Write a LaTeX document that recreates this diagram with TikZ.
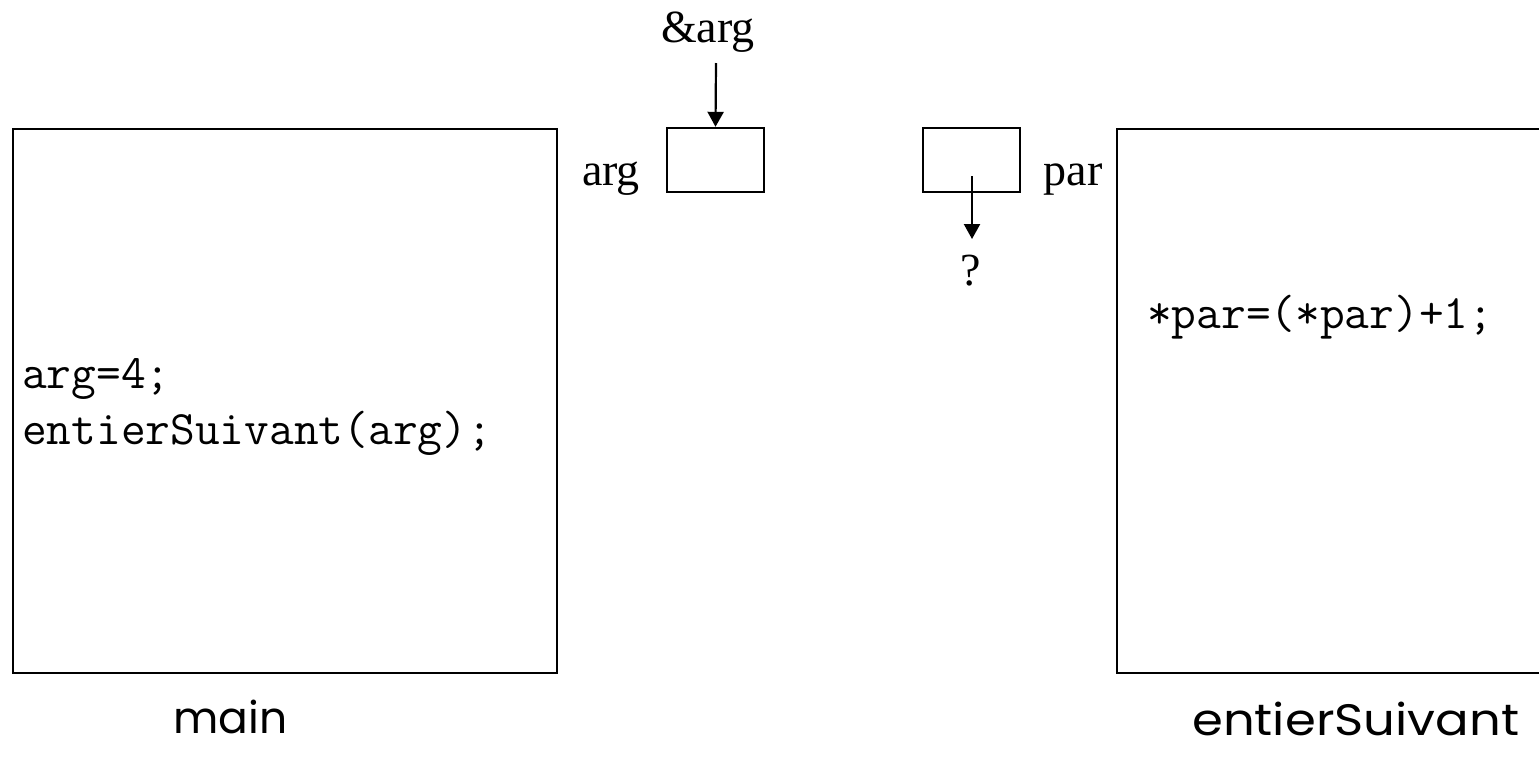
\documentclass[tikz,border=0pt]{standalone}
\usepackage{fontspec}
\setmainfont{Liberation Serif}
\newfontfamily\comicfont{Poppins}
\usetikzlibrary{arrows.meta}
\begin{document}
\begin{tikzpicture}[x=1pt,y=-1pt,
 frame/.style={draw,line width=2.4pt,inner sep=0pt},
 cell/.style={draw,line width=2.4pt,minimum width=97pt,minimum height=64pt,inner sep=0pt},
 serif/.style={font=\fontsize{46}{46}\selectfont,inner sep=0pt,anchor=base},
 code/.style={font=\ttfamily\fontsize{48}{56}\selectfont,inner sep=0pt,anchor=base west},
 title/.style={font=\comicfont\fontsize{44}{44}\selectfont,inner sep=0pt,anchor=base west},
 ptr/.style={line width=2.2pt,-{Triangle[length=15pt,width=16pt]}}]
\useasboundingbox (0,0) rectangle (1539,756);
% frames
\node[frame,minimum width=544pt,minimum height=544pt,anchor=north west] (main) at (12,128) {};
\node[frame,minimum width=440pt,minimum height=544pt,anchor=north west] (suiv) at (1116,128) {};
% variable cells
\node[cell] (argbox) at (715.5,160) {};
\node[cell] (parbox) at (971.5,160) {};
% labels
\node[serif] (amp) at (708,42) {\&arg};
\node[serif] (argl) at (611,185) {arg};
\node[serif] (parl) at (1073,185) {par};
\node[serif] (q) at (971,285) {?};
% code
\node[code] (c1) at (22,388) {arg=4;};
\node[code] (c2) at (22,444) {entierSuivant(arg);};
\node[code] (c3) at (1147,328) {*par=(*par)+1;};
% titles
\node[title] (tmain) at (173,733) {main};
\node[title] (tsuiv) at (1192,735) {\scalebox{1.13}[1]{entierSuivant}};
% pointers
\coordinate (ampend) at (716,63);
\draw[ptr] (ampend) -- (argbox.north);
\coordinate (pstart) at (972,176);
\coordinate (pend) at (972,239);
\draw[ptr] (pstart) -- (pend);
\end{tikzpicture}
\end{document}
